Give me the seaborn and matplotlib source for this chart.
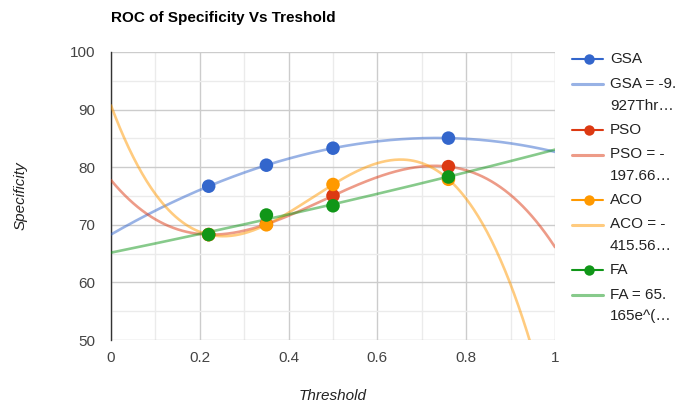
import matplotlib
matplotlib.use("Agg")
import matplotlib.pyplot as plt
from matplotlib.lines import Line2D
from matplotlib.ticker import MultipleLocator
import numpy as np
import pandas as pd
import seaborn as sns

# Datos
threshold = [0.22, 0.35, 0.50, 0.76]
gsa = [76.7, 80.35, 83.3, 85.05]
pso = [68.3, 70.1, 75.05, 80.1]
aco = [68.3, 70.0, 77.0, 77.9]
fa = [68.3, 71.7, 73.3, 78.3]

series_names = ["GSA", "PSO", "ACO", "FA"]
trend_labels = ["GSA = -9.\n927Thr…", "PSO = -\n197.66…", "ACO = -\n415.56…", "FA = 65.\n165e^(…"]
colors = ["#3366cc", "#dc3912", "#ff9900", "#109618"]

df = pd.DataFrame({
    "Threshold": threshold * 4,
    "Specificity": gsa + pso + aco + fa,
    "serie": [s for s in series_names for _ in threshold],
})

# Líneas de tendencia: polinómicas (grado 3) y exponencial para FA
xs = np.linspace(0, 1, 400)
curves = []
for name in series_names:
    sub = df[df["serie"] == name]
    if name == "FA":
        b, a = np.polyfit(sub["Threshold"], np.log(sub["Specificity"]), 1)
        ys = np.exp(a) * np.exp(b * xs)
    else:
        ys = np.polyval(np.polyfit(sub["Threshold"], sub["Specificity"], 3), xs)
    curves.append(pd.DataFrame({"Threshold": xs, "Specificity": ys, "serie": name}))
trend = pd.concat(curves, ignore_index=True)

sns.set_theme(style="white")
plt.rcParams["font.family"] = ["Liberation Sans", "DejaVu Sans"]

fig = plt.figure(figsize=(6.78, 4.05), dpi=100)
ax = fig.add_axes([111 / 678, 1 - 340 / 405, 444 / 678, 288 / 405])

palette = dict(zip(series_names, colors))
sns.lineplot(data=trend, x="Threshold", y="Specificity", hue="serie", palette=palette,
             linewidth=1.9, alpha=0.5, legend=False, ax=ax, zorder=3)
for name in series_names:
    sns.scatterplot(data=df[df["serie"] == name], x="Threshold", y="Specificity",
                    color=palette[name], s=95, edgecolor="none", legend=False,
                    ax=ax, zorder=4)

ax.set_xlim(0, 1)
ax.set_ylim(50, 100)
ax.xaxis.set_major_locator(MultipleLocator(0.2))
ax.xaxis.set_minor_locator(MultipleLocator(0.1))
ax.yaxis.set_major_locator(MultipleLocator(10))
ax.yaxis.set_minor_locator(MultipleLocator(5))
ax.set_xticks([0, 0.2, 0.4, 0.6, 0.8, 1])
ax.set_xticklabels(["0", "0.2", "0.4", "0.6", "0.8", "1"])
ax.grid(True, which="major", color="#cccccc", linewidth=1.0, zorder=0)
ax.grid(True, which="minor", color="#ebebeb", linewidth=1.0, zorder=0)
ax.set_axisbelow(True)
for side in ["top", "right", "bottom"]:
    ax.spines[side].set_visible(False)
ax.spines["left"].set_color("#333333")
ax.spines["left"].set_linewidth(1.0)
ax.tick_params(axis="both", which="both", length=0, labelsize=11, colors="#444444")
ax.tick_params(axis="y", pad=11.5)
ax.tick_params(axis="x", pad=8)
ax.set_xlabel("Threshold", style="italic", fontsize=11, color="#222222", va="center")
ax.set_ylabel("Specificity", style="italic", fontsize=11, color="#222222", va="center")
ax.xaxis.set_label_coords(0.5, -(396 - 340) / 288)
ax.yaxis.set_label_coords(-(111 - 21) / 444, 0.5)

fig.text(111 / 678, 1 - 18 / 405, "ROC of Specificity Vs Treshold", fontsize=11,
         fontweight="bold", color="#000000", va="center", ha="left")

# Leyenda a la derecha
for i, name in enumerate(series_names):
    y0 = 59.3 + 70.3 * i
    c = colors[i]
    fig.add_artist(Line2D([572 / 678, 603 / 678], [1 - y0 / 405] * 2, color=c, linewidth=1.5,
                          transform=fig.transFigure))
    fig.add_artist(Line2D([588.5 / 678], [1 - y0 / 405], marker="o", markersize=7.5, color=c,
                          markeredgecolor="none", transform=fig.transFigure))
    fig.text(610 / 678, 1 - y0 / 405, name, fontsize=11, color="#222222", va="center", ha="left")
    y1 = y0 + 25
    fig.add_artist(Line2D([572 / 678, 603 / 678], [1 - y1 / 405] * 2, color=c, linewidth=2.2,
                          alpha=0.5, transform=fig.transFigure))
    fig.text(610 / 678, 1 - (y1 - 7.5) / 405, trend_labels[i], fontsize=11, color="#222222",
             va="top", ha="left", linespacing=1.7)

fig.savefig("out.png", dpi=100)
